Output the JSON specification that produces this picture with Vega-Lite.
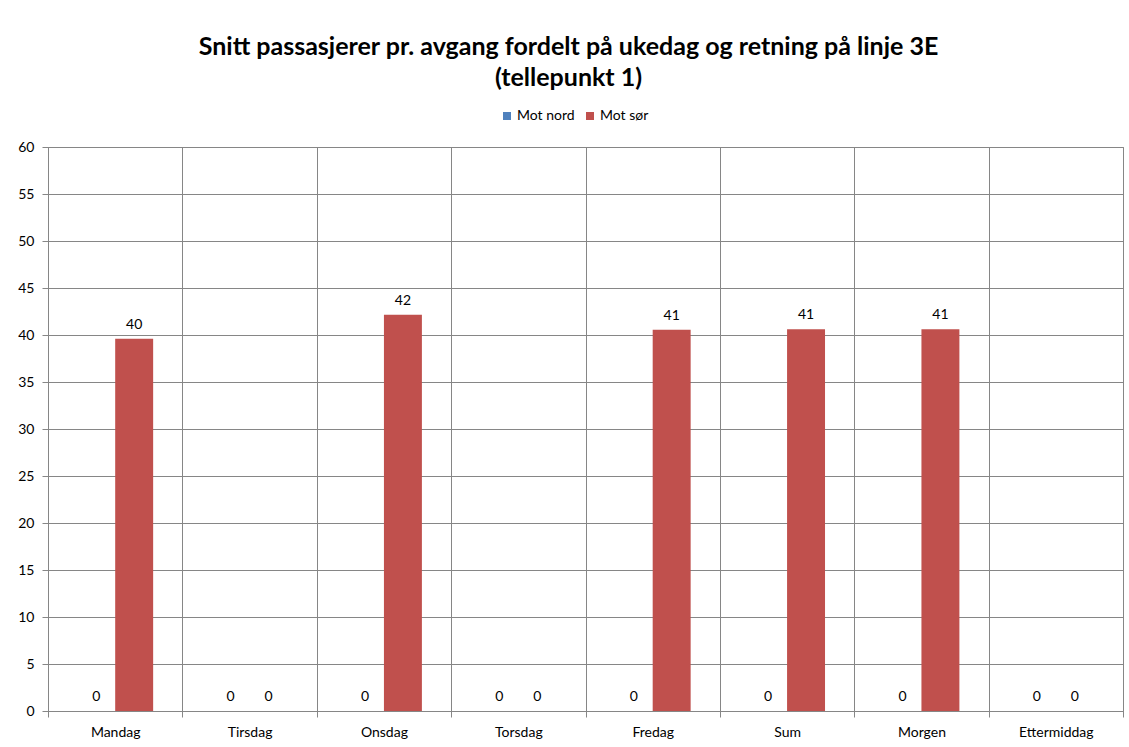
{
  "$schema": "https://vega.github.io/schema/vega-lite/v6.json",
  "width": 1075,
  "height": 564,
  "autosize": {"type": "none"},
  "padding": {"left": 48, "top": 147, "right": 6, "bottom": 36},
  "background": "white",
  "title": {
    "text": ["Snitt passasjerer pr. avgang fordelt på ukedag og retning på linje 3E", "(tellepunkt 1)"],
    "font": "Lato",
    "fontSize": 25,
    "fontWeight": "bold",
    "color": "#000000",
    "anchor": "middle",
    "frame": "group",
    "dx": -17,
    "lineHeight": 31,
    "offset": 18
  },
  "data": {
    "values": [
      {"dag": "Mandag", "retning": "Mot nord", "verdi": 0},
      {"dag": "Mandag", "retning": "Mot sør", "verdi": 39.6},
      {"dag": "Tirsdag", "retning": "Mot nord", "verdi": 0},
      {"dag": "Tirsdag", "retning": "Mot sør", "verdi": 0},
      {"dag": "Onsdag", "retning": "Mot nord", "verdi": 0},
      {"dag": "Onsdag", "retning": "Mot sør", "verdi": 42.15},
      {"dag": "Torsdag", "retning": "Mot nord", "verdi": 0},
      {"dag": "Torsdag", "retning": "Mot sør", "verdi": 0},
      {"dag": "Fredag", "retning": "Mot nord", "verdi": 0},
      {"dag": "Fredag", "retning": "Mot sør", "verdi": 40.55},
      {"dag": "Sum", "retning": "Mot nord", "verdi": 0},
      {"dag": "Sum", "retning": "Mot sør", "verdi": 40.6},
      {"dag": "Morgen", "retning": "Mot nord", "verdi": 0},
      {"dag": "Morgen", "retning": "Mot sør", "verdi": 40.6},
      {"dag": "Ettermiddag", "retning": "Mot nord", "verdi": 0},
      {"dag": "Ettermiddag", "retning": "Mot sør", "verdi": 0}
    ]
  },
  "encoding": {
    "x": {
      "field": "dag",
      "type": "nominal",
      "sort": null,
      "scale": {"paddingInner": 0, "paddingOuter": 0},
      "axis": {
        "title": null,
        "labelAngle": 0,
        "tickBand": "extent",
        "grid": true,
        "gridColor": "#868686",
        "domainColor": "#868686",
        "tickColor": "#868686",
        "tickSize": 6,
        "labelPadding": 8,
        "labelFont": "Lato",
        "labelFontSize": 14,
        "labelColor": "#000000"
      }
    },
    "xOffset": {
      "field": "retning",
      "type": "nominal",
      "scale": {"paddingOuter": 0.77, "paddingInner": 0}
    },
    "y": {
      "field": "verdi",
      "type": "quantitative",
      "scale": {"domain": [0, 60], "nice": false},
      "axis": {
        "title": null,
        "values": [0, 5, 10, 15, 20, 25, 30, 35, 40, 45, 50, 55, 60],
        "grid": true,
        "gridColor": "#868686",
        "domainColor": "#868686",
        "tickColor": "#868686",
        "tickSize": 6,
        "labelPadding": 8,
        "labelFont": "Lato",
        "labelFontSize": 14,
        "labelColor": "#000000"
      }
    }
  },
  "layer": [
    {
      "mark": {"type": "bar"},
      "encoding": {
        "color": {
          "field": "retning",
          "type": "nominal",
          "scale": {"domain": ["Mot nord", "Mot sør"], "range": ["#4F81BD", "#C0504D"]},
          "legend": {
            "title": null,
            "orient": "none",
            "direction": "horizontal",
            "legendX": 452,
            "legendY": -38,
            "symbolType": "square",
            "symbolSize": 64,
            "symbolStrokeWidth": 0,
            "labelFont": "Lato",
            "labelFontSize": 14,
            "labelColor": "#000000",
            "columnPadding": 8,
            "labelOffset": 3
          }
        }
      }
    },
    {
      "mark": {"type": "text", "baseline": "bottom", "dy": -7, "font": "Lato", "fontSize": 14, "color": "#000000"},
      "encoding": {
        "text": {"field": "verdi", "type": "quantitative", "format": ".0f"}
      }
    }
  ],
  "config": {
    "view": {"stroke": "#868686", "strokeWidth": 1}
  }
}
